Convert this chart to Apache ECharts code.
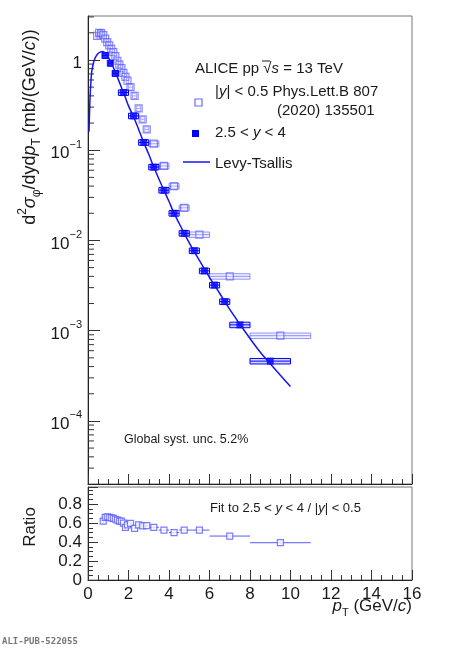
<!DOCTYPE html>
<html>
<head>
<meta charset="utf-8">
<script src="https://cdn.jsdelivr.net/npm/echarts@6/dist/echarts.min.js"></script>
<style>
html,body{margin:0;padding:0;background:#fff}
#chart{width:469px;height:650px}
</style>
</head>
<body>
<div id="chart"></div>
<script>
// 2.5 < y < 4 (filled squares)
var fwdLo  = [0.7, 1.0, 1.2, 1.5, 2.0, 2.5, 3.0, 3.5, 4.0, 4.5, 5.0, 5.5, 6.0, 6.5, 7.0, 8.0];
var fwdHi  = [1.0, 1.2, 1.5, 2.0, 2.5, 3.0, 3.5, 4.0, 4.5, 5.0, 5.5, 6.0, 6.5, 7.0, 8.0, 10.0];
var fwdVal = [1.12, 0.92, 0.71, 0.435, 0.24, 0.122, 0.065, 0.036, 0.020, 0.012, 0.0077, 0.0046, 0.0032, 0.0021, 0.00116, 0.00046];
var fwdSys = 0.07;

// |y| < 0.5 (open squares)
var midLo  = [0.4, 0.5, 0.6, 0.7, 0.8, 0.9, 1.0, 1.1, 1.2, 1.3, 1.4, 1.5, 1.6, 1.7, 1.8, 1.9, 2.0, 2.2, 2.4, 2.6, 2.8, 3.0, 3.5, 4.0, 4.5, 5.0, 6.0, 8.0];
var midHi  = [0.5, 0.6, 0.7, 0.8, 0.9, 1.0, 1.1, 1.2, 1.3, 1.4, 1.5, 1.6, 1.7, 1.8, 1.9, 2.0, 2.2, 2.4, 2.6, 2.8, 3.0, 3.5, 4.0, 4.5, 5.0, 6.0, 8.0, 11.0];
var midVal = [1.85, 2.0, 1.98, 1.88, 1.72, 1.58, 1.45, 1.33, 1.22, 1.10, 0.98, 0.89, 0.81, 0.72, 0.65, 0.59, 0.50, 0.40, 0.29, 0.22, 0.17, 0.118, 0.067, 0.040, 0.023, 0.0116, 0.0040, 0.00088];
var midSys = 0.07;

// Levy-Tsallis fit to 2.5 < y < 4
var fitPt  = [0.05, 0.1, 0.15, 0.2, 0.3, 0.4, 0.5, 0.6, 0.7, 0.8, 0.9, 1.0, 1.2, 1.4, 1.6, 1.8, 2.0, 2.25, 2.5, 2.75, 3.0, 3.25, 3.5, 3.75, 4.0, 4.25, 4.5, 4.75, 5.0, 5.5, 6.0, 6.5, 7.0, 7.5, 8.0, 8.5, 9.0, 9.5, 10.0];
var fitVal = [0.16, 0.38, 0.6, 0.78, 0.98, 1.1, 1.18, 1.22, 1.24, 1.22, 1.17, 1.08, 0.88, 0.69, 0.53, 0.41, 0.31, 0.235, 0.17, 0.122, 0.09, 0.065, 0.048, 0.036, 0.027, 0.020, 0.0155, 0.012, 0.0094, 0.0060, 0.0039, 0.0026, 0.00172, 0.00118, 0.00082, 0.00058, 0.00043, 0.00032, 0.00024];

// ratio fit / |y|<0.5
var ratioLo  = [0.7, 0.8, 0.9, 1.0, 1.1, 1.2, 1.3, 1.4, 1.5, 1.6, 1.7, 1.8, 1.9, 2.0, 2.2, 2.4, 2.6, 2.8, 3.0, 3.5, 4.0, 4.5, 5.0, 6.0, 8.0];
var ratioHi  = [0.8, 0.9, 1.0, 1.1, 1.2, 1.3, 1.4, 1.5, 1.6, 1.7, 1.8, 1.9, 2.0, 2.2, 2.4, 2.6, 2.8, 3.0, 3.5, 4.0, 4.5, 5.0, 6.0, 8.0, 11.0];
var ratioVal = [0.62, 0.66, 0.665, 0.66, 0.655, 0.65, 0.64, 0.63, 0.62, 0.62, 0.60, 0.555, 0.58, 0.597, 0.545, 0.58, 0.57, 0.572, 0.555, 0.526, 0.50, 0.526, 0.526, 0.463, 0.393];
var ratioErr = [0.03, 0.025, 0.02, 0.02, 0.02, 0.02, 0.02, 0.02, 0.02, 0.02, 0.02, 0.02, 0.02, 0.015, 0.015, 0.015, 0.015, 0.015, 0.012, 0.012, 0.012, 0.012, 0.012, 0.012, 0.015];

var xTicks = [0, 2, 4, 6, 8, 10, 12, 14, 16];
var yDecades = [-5, -4, -3, -2, -1, 0];

var FONT = 'Liberation Sans';
var TXT = '#1a1a1a';
var BLUE = '#0000ff';
var LBLUE = '#5a5aff';
var YMIN = 2.0e-5, YMAX = 3.07;

function mid(lo, hi) { return lo.map(function (v, i) { return (v + hi[i]) / 2; }); }

var fwdX = mid(fwdLo, fwdHi), midX = mid(midLo, midHi), ratioX = mid(ratioLo, ratioHi);

// minor log ticks 2..9 x 10^n
var minorVals = [];
yDecades.forEach(function (n) {
	for (var k = 2; k <= 9; k++) {
		var v = k * Math.pow(10, n);
		if (v > YMIN && v < YMAX) minorVals.push([0, v]);
	}
});

function boxRender(fill, stroke) {
	return function (params, api) {
		var lo = api.value(0), hi = api.value(1), v = api.value(2), s = api.value(3);
		var a = api.coord([lo, v * (1 + s)]), b = api.coord([hi, v * (1 - s)]);
		var c = api.coord([lo, v]), d = api.coord([hi, v]);
		return {type: 'group', children: [
			{type: 'rect', shape: {x: a[0], y: a[1], width: b[0] - a[0], height: b[1] - a[1]},
				style: {fill: fill, stroke: stroke, lineWidth: 1}},
			{type: 'line', shape: {x1: c[0], y1: c[1], x2: d[0], y2: d[1]},
				style: {stroke: stroke, lineWidth: 1}}
		]};
	};
}

function errRender(params, api) {
	var lo = api.value(0), hi = api.value(1), v = api.value(2), e = api.value(3);
	var a = api.coord([lo, v]), b = api.coord([hi, v]);
	var m = (lo + hi) / 2;
	var t = api.coord([m, v + e]), u = api.coord([m, v - e]);
	return {type: 'group', children: [
		{type: 'line', shape: {x1: a[0], y1: a[1], x2: b[0], y2: b[1]}, style: {stroke: LBLUE, lineWidth: 1}},
		{type: 'line', shape: {x1: t[0], y1: t[1], x2: u[0], y2: u[1]}, style: {stroke: LBLUE, lineWidth: 1}}
	]};
}

function minorTickRender(params, api) {
	var p = api.coord([api.value(0), api.value(1)]);
	return {type: 'line', shape: {x1: p[0], y1: p[1], x2: p[0] + 6, y2: p[1]},
		style: {stroke: '#333', lineWidth: 1}};
}

var fwdBoxes = fwdVal.map(function (v, i) { return [fwdLo[i], fwdHi[i], v, fwdSys]; });
var midBoxes = midVal.map(function (v, i) { return [midLo[i], midHi[i], v, midSys]; });
var ratioBars = ratioVal.map(function (v, i) { return [ratioLo[i], ratioHi[i], v, ratioErr[i]]; });

var supRich = {
	b: {fontFamily: FONT, fontSize: 17, color: TXT, lineHeight: 24, verticalAlign: 'bottom'},
	s: {fontFamily: FONT, fontSize: 11, color: TXT, lineHeight: 24, verticalAlign: 'top', padding: [1, 0, 0, 0]}
};

var tickStyle = {color: '#333', width: 1};

var chart = echarts.init(document.getElementById('chart'));
chart.setOption({
	animation: false,
	backgroundColor: '#fff',
	grid: [
		{left: 88, right: 57, top: 16, height: 468, show: true, borderColor: '#777', borderWidth: 1},
		{left: 88, right: 57, top: 487, height: 93, show: true, borderColor: '#777', borderWidth: 1}
	],
	xAxis: [
		{type: 'value', gridIndex: 0, min: 0, max: 16, interval: 2,
			axisLine: {lineStyle: {color: '#222'}},
			axisTick: {show: true, inside: true, length: 10, lineStyle: tickStyle},
			minorTick: {show: true, splitNumber: 4, length: 5, lineStyle: tickStyle},
			axisLabel: {show: false}, splitLine: {show: false}},
		{type: 'value', gridIndex: 1, min: 0, max: 16, interval: 2,
			axisLine: {lineStyle: {color: '#222'}},
			axisTick: {show: true, inside: true, length: 10, lineStyle: tickStyle},
			minorTick: {show: true, splitNumber: 4, length: 5, lineStyle: tickStyle},
			axisLabel: {fontFamily: FONT, fontSize: 17, color: TXT, margin: 6,
				formatter: function (v) { return xTicks.indexOf(v) >= 0 ? String(v) : ''; }},
			splitLine: {show: false}}
	],
	yAxis: [
		{type: 'log', gridIndex: 0, min: YMIN, max: YMAX, logBase: 10,
			axisLine: {show: true, lineStyle: {color: '#222'}},
			axisTick: {show: true, inside: true, length: 12, lineStyle: tickStyle},
			minorTick: {show: false},
			axisLabel: {margin: 6, rich: supRich, showMinLabel: false, showMaxLabel: false, formatter: function (v) {
				var n = Math.round(Math.log(v) / Math.LN10);
				if (Math.abs(Math.log(v) / Math.LN10 - n) > 0.01 || n < -4) return '';
				if (n === 0) return '{b|1}';
				return '{b|10}{s|\u2212' + Math.abs(n) + '}';
			}},
			splitLine: {show: false}},
		{type: 'value', gridIndex: 1, min: 0, max: 0.98, interval: 0.2,
			axisLine: {show: true, lineStyle: {color: '#222'}},
			axisTick: {show: true, inside: true, length: 10, lineStyle: tickStyle},
			minorTick: {show: true, splitNumber: 4, length: 5, lineStyle: tickStyle},
			axisLabel: {fontFamily: FONT, fontSize: 17, color: TXT, margin: 6, showMaxLabel: false,
				formatter: function (v) { return v > 0.9 ? '' : (v === 0 ? '0' : v.toFixed(1)); }},
			splitLine: {show: false}}
	],
	series: [
		{type: 'custom', xAxisIndex: 0, yAxisIndex: 0, renderItem: minorTickRender,
			data: minorVals, silent: true, z: 1, clip: false},
		{type: 'custom', xAxisIndex: 0, yAxisIndex: 0, renderItem: boxRender('rgba(120,120,255,0.12)', 'rgba(70,70,255,0.55)'),
			encode: {x: [0, 1], y: 2}, data: midBoxes, z: 2},
		{type: 'scatter', xAxisIndex: 0, yAxisIndex: 0, symbol: 'rect', symbolSize: 7,
			itemStyle: {color: 'rgba(255,255,255,0.3)', borderColor: 'rgba(80,80,255,0.85)', borderWidth: 1.2},
			data: midVal.map(function (v, i) { return [midX[i], v]; }), z: 3},
		{type: 'custom', xAxisIndex: 0, yAxisIndex: 0, renderItem: boxRender('rgba(0,0,255,0.15)', BLUE),
			encode: {x: [0, 1], y: 2}, data: fwdBoxes, z: 4},
		{type: 'scatter', xAxisIndex: 0, yAxisIndex: 0, symbol: 'rect', symbolSize: 7,
			itemStyle: {color: BLUE},
			data: fwdVal.map(function (v, i) { return [fwdX[i], v]; }), z: 5},
		{type: 'line', xAxisIndex: 0, yAxisIndex: 0, showSymbol: false, smooth: 0.3,
			lineStyle: {color: '#1414f0', width: 1.5},
			data: fitVal.map(function (v, i) { return [fitPt[i], v]; }), z: 6},
		{type: 'custom', xAxisIndex: 1, yAxisIndex: 1, renderItem: errRender,
			encode: {x: [0, 1], y: 2}, data: ratioBars, z: 2},
		{type: 'scatter', xAxisIndex: 1, yAxisIndex: 1, symbol: 'rect', symbolSize: 6,
			itemStyle: {color: '#fff', borderColor: LBLUE, borderWidth: 1.2},
			data: ratioVal.map(function (v, i) { return [ratioX[i], v]; }), z: 3}
	],
	graphic: [
		// legend
		{type: 'text', left: 195, top: 61, style: {text: 'ALICE pp \u221A{i|s} = 13 TeV', fill: TXT, font: '15px ' + FONT,
			rich: {i: {fontStyle: 'italic', fontFamily: FONT, fontSize: 15, fill: TXT}}}},
		{type: 'line', shape: {x1: 262, y1: 61, x2: 270, y2: 61}, style: {stroke: TXT, lineWidth: 1}},
		{type: 'rect', shape: {x: 195, y: 99, width: 7, height: 7}, style: {fill: '#fff', stroke: 'rgba(80,80,255,0.85)', lineWidth: 1.2}},
		{type: 'text', left: 215, top: 84, style: {text: '|{i|y}| < 0.5 Phys.Lett.B 807', fill: TXT, font: '15px ' + FONT,
			rich: {i: {fontStyle: 'italic', fontFamily: FONT, fontSize: 15, fill: TXT}}}},
		{type: 'text', left: 277, top: 103, style: {text: '(2020) 135501', fill: TXT, font: '15px ' + FONT}},
		{type: 'rect', shape: {x: 192, y: 130, width: 7, height: 7}, style: {fill: BLUE}},
		{type: 'text', left: 215, top: 125, style: {text: '2.5 < {i|y} < 4', fill: TXT, font: '15px ' + FONT,
			rich: {i: {fontStyle: 'italic', fontFamily: FONT, fontSize: 15, fill: TXT}}}},
		{type: 'line', shape: {x1: 183, y1: 162, x2: 210, y2: 162}, style: {stroke: '#1414f0', lineWidth: 1.5}},
		{type: 'text', left: 215, top: 156, style: {text: 'Levy-Tsallis', fill: TXT, font: '15px ' + FONT}},
		// notes
		{type: 'text', left: 124, top: 433, style: {text: 'Global syst. unc. 5.2%', fill: TXT, font: '12.5px ' + FONT}},
		{type: 'text', left: 210, top: 502, style: {text: 'Fit to 2.5 < {i|y} < 4 / |{i|y}| < 0.5', fill: TXT, font: '13px ' + FONT,
			rich: {i: {fontStyle: 'italic', fontFamily: FONT, fontSize: 13, fill: TXT}}}},
		// axis titles
		{type: 'text', x: 30, y: 127, rotation: Math.PI / 2,
			style: {text: 'd{sp|2}{i|\u03C3}{sb|\u03C6}/dyd{i|p}{sb|T} (mb/(GeV/{i|c}))', fill: TXT, font: '18px ' + FONT,
				align: 'center', verticalAlign: 'middle',
				rich: {
					i: {fontStyle: 'italic', fontFamily: FONT, fontSize: 18, fill: TXT, lineHeight: 26, verticalAlign: 'middle'},
					sp: {fontFamily: FONT, fontSize: 12, fill: TXT, lineHeight: 26, verticalAlign: 'top'},
					sb: {fontFamily: FONT, fontSize: 12, fill: TXT, lineHeight: 26, verticalAlign: 'bottom'}
				}}},
		{type: 'text', x: 30, y: 527, rotation: Math.PI / 2,
			style: {text: 'Ratio', fill: TXT, font: '17px ' + FONT, align: 'center', verticalAlign: 'middle'}},
		{type: 'text', right: 57, top: 598,
			style: {text: '{i|p}{sb|T} (GeV/{i|c})', fill: TXT, font: '17px ' + FONT,
				rich: {
					i: {fontStyle: 'italic', fontFamily: FONT, fontSize: 17, fill: TXT, lineHeight: 24, verticalAlign: 'middle'},
					sb: {fontFamily: FONT, fontSize: 11, fill: TXT, lineHeight: 24, verticalAlign: 'bottom'}
				}}},
		{type: 'text', left: 2, top: 637, style: {text: 'ALI-PUB-522055', fill: '#777', font: 'bold 9px DejaVu Sans Mono'}}
	]
});
</script>
</body>
</html>
